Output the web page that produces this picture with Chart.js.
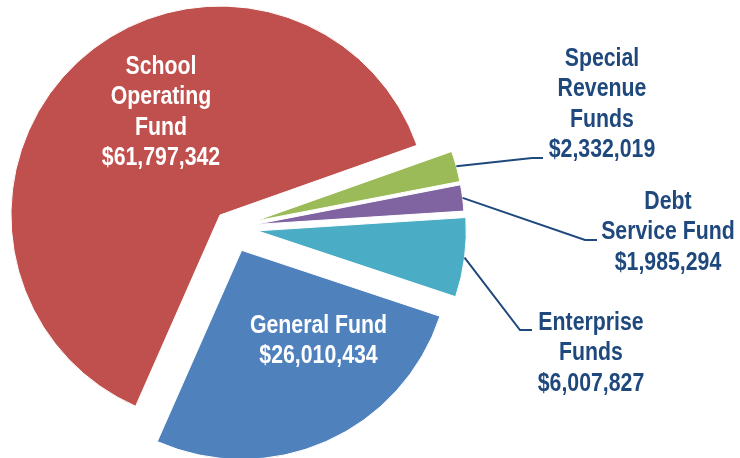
<!DOCTYPE html>
<html>
<head>
<meta charset="utf-8">
<script src="https://cdn.jsdelivr.net/npm/chart.js@4.4.1/dist/chart.umd.min.js"></script>
<style>
  html, body { margin: 0; padding: 0; background: #ffffff; }
  #wrap { width: 740px; height: 458px; }
</style>
</head>
<body>
<div id="wrap"><canvas id="chart" width="740" height="458"></canvas></div>
<script>
// Fund categories, in clockwise drawing order
const categories = ['School Operating Fund', 'Special Revenue Funds', 'Debt Service Fund', 'Enterprise Funds', 'General Fund'];
// Amounts in dollars
const amounts = [61797342, 2332019, 1985294, 6007827, 26010434];
// Label wording, split into lines
const labelLines = [
  ['School', 'Operating', 'Fund'],
  ['Special', 'Revenue', 'Funds'],
  ['Debt', 'Service Fund'],
  ['Enterprise', 'Funds'],
  ['General Fund']
];

const sliceColors = ['#C0504D', '#9BBB59', '#8064A2', '#4BACC6', '#4F81BD'];
// How far each slice is pulled out from the centre, in px
const EXPLODE = [17, 24, 24, 26, 25];

const NAVY = '#1F497D';
// Bold sans, squeezed horizontally for a narrow face
const FONT = 'bold 25.5px "Liberation Sans", Arial, sans-serif';
const NARROW = 0.835;
const LINE_STEP = 30.5;

// Label placement: centre x, first baseline, colour, leader elbow/end
const labelLayout = [
  { x: 161,   y: 73.5,  color: '#ffffff' },
  { x: 602,   y: 65.5,  color: NAVY, elbow: [532, 158], end: [543, 158] },
  { x: 668,   y: 208.5, color: NAVY, elbow: [585, 240], end: [597, 240] },
  { x: 591,   y: 329.5, color: NAVY, elbow: [520, 330], end: [532, 330] },
  { x: 318.5, y: 332.5, color: '#ffffff' }
];

const fmt = v => '$' + v.toLocaleString('en-US');

// Exploded slices: each arc is drawn shifted outward along its bisector
const baseArcDraw = Chart.ArcElement.prototype.draw;
Chart.ArcElement.prototype.draw = function (ctx, area) {
  const d = this.explode || 0;
  const mid = (this.startAngle + this.endAngle) / 2;
  ctx.save();
  ctx.translate(Math.cos(mid) * d, Math.sin(mid) * d);
  baseArcDraw.call(this, ctx, area);
  ctx.restore();
};

const explodePlugin = {
  id: 'explode',
  afterDatasetsUpdate(chart) {
    chart.getDatasetMeta(0).data.forEach((arc, i) => { arc.explode = EXPLODE[i]; });
  }
};

function squeezedText(ctx, text, x, y, k) {
  ctx.save();
  ctx.translate(x, y);
  ctx.scale(k, 1);
  ctx.fillText(text, 0, 0);
  ctx.restore();
}

const labelPlugin = {
  id: 'fundLabels',
  afterDatasetsDraw(chart) {
    const ctx = chart.ctx;
    const arcs = chart.getDatasetMeta(0).data;
    ctx.save();
    arcs.forEach((arc, i) => {
      const lay = labelLayout[i];
      // leader line from the slice's outer edge
      if (lay.elbow) {
        const mid = (arc.startAngle + arc.endAngle) / 2;
        const r = arc.outerRadius + EXPLODE[i];
        const sx = arc.x + Math.cos(mid) * r;
        const sy = arc.y + Math.sin(mid) * r;
        ctx.beginPath();
        ctx.moveTo(sx, sy);
        ctx.lineTo(lay.elbow[0], lay.elbow[1]);
        ctx.lineTo(lay.end[0], lay.end[1]);
        ctx.strokeStyle = NAVY;
        ctx.lineWidth = 2;
        ctx.stroke();
      }
      ctx.font = FONT;
      ctx.fillStyle = lay.color;
      ctx.textAlign = 'center';
      ctx.textBaseline = 'alphabetic';
      const lines = labelLines[i].concat([fmt(amounts[i])]);
      lines.forEach((t, k) => squeezedText(ctx, t, lay.x, lay.y + k * LINE_STEP, NARROW));
    });
    ctx.restore();
  }
};

new Chart(document.getElementById('chart'), {
  type: 'pie',
  data: {
    labels: categories,
    datasets: [{
      data: amounts,
      backgroundColor: sliceColors,
      borderColor: '#ffffff',
      borderWidth: 1,
      clip: false
    }]
  },
  options: {
    responsive: false,
    devicePixelRatio: 1,
    animation: false,
    events: [],
    rotation: 203.8,
    radius: 209,
    layout: { padding: { left: 0, top: 0, right: 277, bottom: 3 } },
    plugins: { legend: { display: false }, tooltip: { enabled: false } }
  },
  plugins: [explodePlugin, labelPlugin]
});
</script>
</body>
</html>
